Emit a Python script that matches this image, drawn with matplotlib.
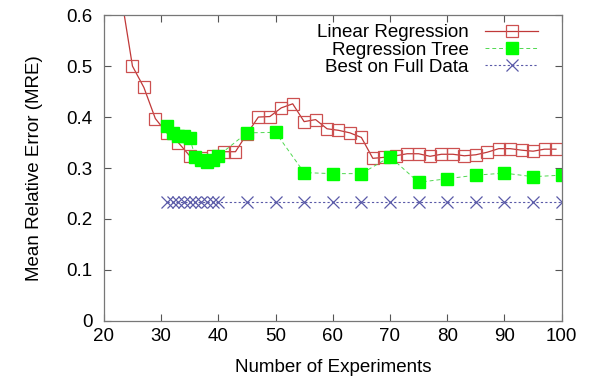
import matplotlib
matplotlib.use('Agg')
import matplotlib.pyplot as plt

plt.rcParams['font.family'] = ['Liberation Sans', 'DejaVu Sans']

# Linear Regression (odd experiment counts)
lr_x = [23, 25, 27, 29, 31, 33, 35, 37, 39, 41, 43, 45, 47, 49, 51, 53, 55, 57, 59, 61,
        63, 65, 67, 69, 71, 73, 75, 77, 79, 81, 83, 85, 87, 89, 91, 93, 95, 97, 99]
lr_y = [0.64, 0.50, 0.458, 0.397, 0.369, 0.35, 0.324, 0.32, 0.324, 0.332,
        0.332, 0.367, 0.40, 0.401, 0.418, 0.426, 0.391, 0.395, 0.377, 0.374,
        0.369, 0.36, 0.319, 0.321, 0.324, 0.328, 0.328, 0.323, 0.327, 0.327,
        0.324, 0.326, 0.331, 0.338, 0.338, 0.335, 0.333, 0.337, 0.337]

# Regression Tree
rt_x = [31, 32, 33, 34, 35, 36, 37, 38, 39, 40, 45, 50, 55, 60, 65, 70, 75, 80, 85, 90, 95, 100]
rt_y = [0.382, 0.369, 0.363, 0.362, 0.358, 0.322, 0.316, 0.312, 0.315, 0.324, 0.369,
        0.37, 0.291, 0.289, 0.289, 0.322, 0.272, 0.279, 0.286, 0.290, 0.283, 0.286]

# Best on Full Data
best_x = rt_x
best_y = [0.234] * len(best_x)

x_ticks = [20, 30, 40, 50, 60, 70, 80, 90, 100]
y_ticks = [0, 0.1, 0.2, 0.3, 0.4, 0.5, 0.6]
y_tick_labels = ['0', '0.1', '0.2', '0.3', '0.4', '0.5', '0.6']

fs = 13.5

fig = plt.figure(figsize=(5.9, 3.78), dpi=100)
ax = fig.add_axes([0.176, 0.151, 0.776, 0.809])

ax.plot(lr_x, lr_y, color='#c03838', lw=0.9, marker='s', ms=8.5,
        mfc='none', mec='#cc5050', mew=0.9, label='Linear Regression')
ax.plot(rt_x, rt_y, color='#50d850', lw=0.7, ls=(0, (4, 3)), marker='s', ms=8,
        mfc='#00ff00', mec='#00ff00', label='Regression Tree')
ax.plot(best_x, best_y, color='#5a5aa8', lw=0.8, ls=(0, (2, 2)), marker='x', ms=8,
        mew=0.9, mec='#5a5aa8', label='Best on Full Data')

ax.set_xlim(20, 100)
ax.set_ylim(0, 0.6)
ax.set_xticks(x_ticks)
ax.set_yticks(y_ticks)
ax.set_yticklabels(y_tick_labels)
ax.tick_params(direction='in', length=5, width=0.8, top=True, right=True,
               labelsize=fs, color='#555555')
ax.tick_params(axis='y', pad=8)
ax.tick_params(axis='x', pad=5)
for s in ax.spines.values():
    s.set_color('#777777')
    s.set_linewidth(0.9)

ax.set_xlabel('Number of Experiments', fontsize=fs, labelpad=10)
ax.set_ylabel('Mean Relative Error (MRE)', fontsize=fs, labelpad=17)

ax.legend(loc='upper right', bbox_to_anchor=(0.952, 0.976), frameon=False,
          markerfirst=False, fontsize=fs, handlelength=2.8, labelspacing=0.0,
          borderaxespad=0, borderpad=0.1, handletextpad=0.9, alignment='right')

fig.savefig('out.png', dpi=100)
